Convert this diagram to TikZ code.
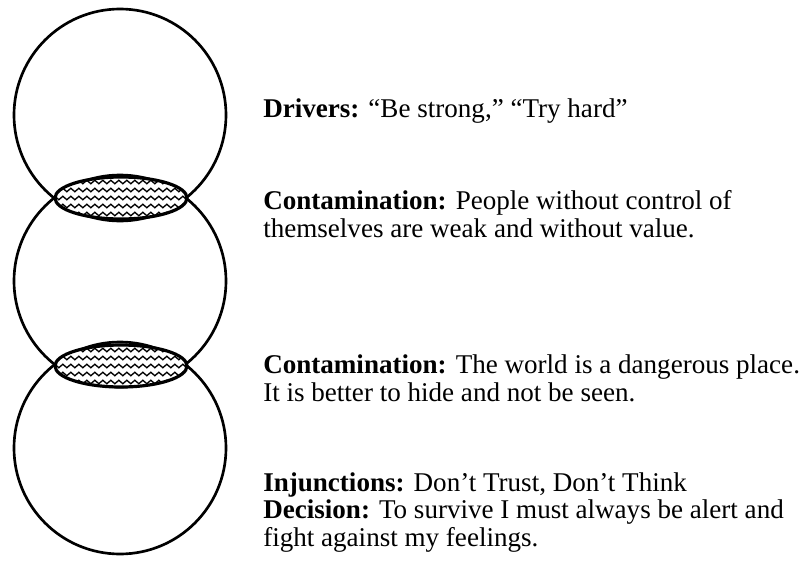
\documentclass[tikz,border=0pt]{standalone}
\usepackage{fontspec}
\setmainfont{Liberation Serif}
\usetikzlibrary{shapes.geometric,decorations.pathmorphing}
\tikzset{
  ring/.style={draw, circle, line width=2pt, minimum size=159pt, inner sep=0pt},
  wave/.style={line width=1pt, decorate, decoration={snake, amplitude=1.3pt, segment length=6pt}},
  lens/.style={draw, ellipse, fill=white, line width=2.4pt, minimum width=99pt, minimum height=31.5pt, inner sep=0pt,
    path picture={
      \foreach \k in {-12,-6,0,6,12}
        \draw[wave] ([xshift=-2pt,yshift=\k pt]path picture bounding box.west) -- ([xshift=2pt,yshift=\k pt]path picture bounding box.east);
    }},
  note/.style={anchor=base west, align=left, inner sep=0pt, font=\fontsize{20.3}{20.5}\selectfont}
}
\begin{document}
\begin{tikzpicture}[x=0.75pt,y=-0.75pt]
  \useasboundingbox (0,0) rectangle (809,560);
  \node[ring] (p) at (120,115) {};
  \node[ring] (a) at (120,281) {};
  \node[ring] (c) at (120,448) {};
  \node[lens] (pa) at (121,198) {};
  \node[lens] (ac) at (121,366) {};
  \node[note] (drv) at (263,117) {\textbf{Drivers:} “Be strong,” “Try hard”};
  \node[note] (con1) at (263,237) {\textbf{Contamination:} People without control of\\themselves are weak and without value.};
  \node[note] (con2) at (263,401) {\textbf{Contamination:} The world is a dangerous place.\\It is better to hide and not be seen.};
  \node[note] (inj) at (263,546) {\textbf{Injunctions:} Don’t Trust, Don’t Think\\\textbf{Decision:} To survive I must always be alert and\\fight against my feelings.};
\end{tikzpicture}
\end{document}
